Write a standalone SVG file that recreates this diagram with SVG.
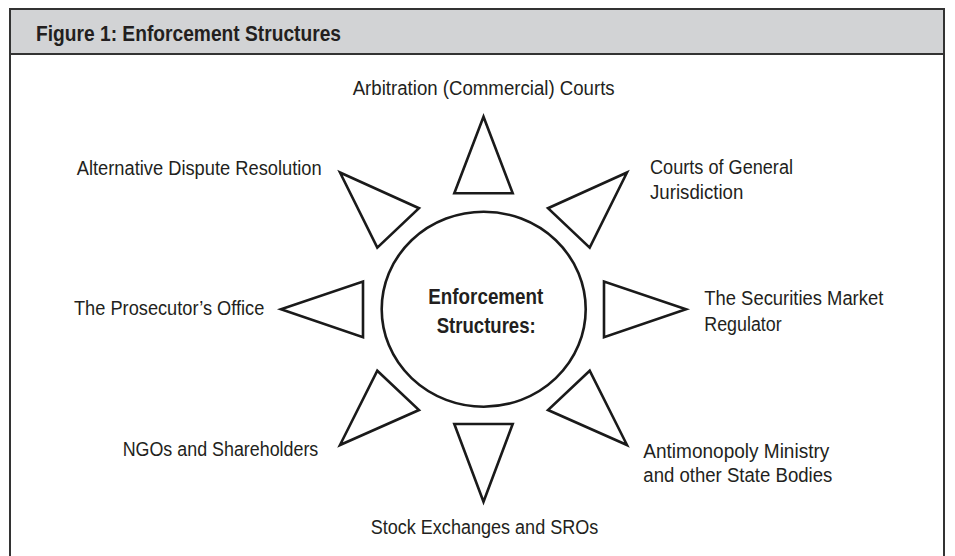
<svg xmlns="http://www.w3.org/2000/svg" width="955" height="556" viewBox="0 0 955 556">
<style>
.lbl{font-family:"Liberation Sans Narrow","Liberation Sans",Arial,sans-serif;font-size:20px;fill:#231f20}
.bold{font-family:"Liberation Sans Narrow","Liberation Sans",Arial,sans-serif;font-size:22.5px;font-weight:bold;fill:#231f20}
.tri{fill:#fff;stroke:#1a1a1a;stroke-width:2.6;stroke-linejoin:miter}
.frame{fill:none;stroke:#333;stroke-width:2}
</style>
<rect x="0" y="0" width="955" height="556" fill="#fff"/>
<g id="frame">
<rect x="10" y="9" width="934" height="45" fill="#d2d3d5"/>
<path class="frame" d="M10,556 V9 H944 V556 M10,54 H944"/>
<text class="bold" x="36" y="41" textLength="305" lengthAdjust="spacingAndGlyphs">Figure 1: Enforcement Structures</text>
</g>
<g id="connectors">
<polygon class="tri" points="483.5,116.7 454.3,193.3 512.7,193.3"/>
<polygon class="tri" points="454.3,424 512.7,424 483.5,501.7"/>
<polygon class="tri" points="604,281.5 604,337.3 686,309.3"/>
<polygon class="tri" points="363,281.5 363,337.3 281,309.3"/>
<polygon class="tri" points="340,172.5 419,208.2 377.3,247.7"/>
<polygon class="tri" points="627,172.5 548,208.2 589.7,247.7"/>
<polygon class="tri" points="377.3,370.7 419,410 340,445"/>
<polygon class="tri" points="589.7,370.7 548,410 627,445"/>
</g>
<g id="center">
<ellipse cx="483.7" cy="309.2" rx="102" ry="97.5" fill="#fff" stroke="#1a1a1a" stroke-width="2.6"/>
<text class="bold" x="428.3" y="304" textLength="115" lengthAdjust="spacingAndGlyphs">Enforcement</text>
<text class="bold" x="436.7" y="332.7" textLength="99" lengthAdjust="spacingAndGlyphs">Structures:</text>
</g>
<g id="arbitration">
<text class="lbl" x="352.7" y="95.3" textLength="262" lengthAdjust="spacingAndGlyphs">Arbitration (Commercial) Courts</text>
</g>
<g id="courts-general">
<text class="lbl" x="650" y="174" textLength="143" lengthAdjust="spacingAndGlyphs">Courts of General</text>
<text class="lbl" x="650" y="198.5" textLength="93.3" lengthAdjust="spacingAndGlyphs">Jurisdiction</text>
</g>
<g id="securities">
<text class="lbl" x="704.3" y="304.5" textLength="179" lengthAdjust="spacingAndGlyphs">The Securities Market</text>
<text class="lbl" x="704.3" y="330.5" textLength="77.4" lengthAdjust="spacingAndGlyphs">Regulator</text>
</g>
<g id="antimonopoly">
<text class="lbl" x="643.3" y="457.5" textLength="186" lengthAdjust="spacingAndGlyphs">Antimonopoly Ministry</text>
<text class="lbl" x="643.3" y="482" textLength="189" lengthAdjust="spacingAndGlyphs">and other State Bodies</text>
</g>
<g id="stock-exchanges">
<text class="lbl" x="370.7" y="534.3" textLength="227.6" lengthAdjust="spacingAndGlyphs">Stock Exchanges and SROs</text>
</g>
<g id="ngos">
<text class="lbl" x="122.7" y="456" textLength="195.6" lengthAdjust="spacingAndGlyphs">NGOs and Shareholders</text>
</g>
<g id="prosecutor">
<text class="lbl" x="74" y="315" textLength="190.3" lengthAdjust="spacingAndGlyphs">The Prosecutor’s Office</text>
</g>
<g id="adr">
<text class="lbl" x="76.7" y="174.5" textLength="245" lengthAdjust="spacingAndGlyphs">Alternative Dispute Resolution</text>
</g>
</svg>
